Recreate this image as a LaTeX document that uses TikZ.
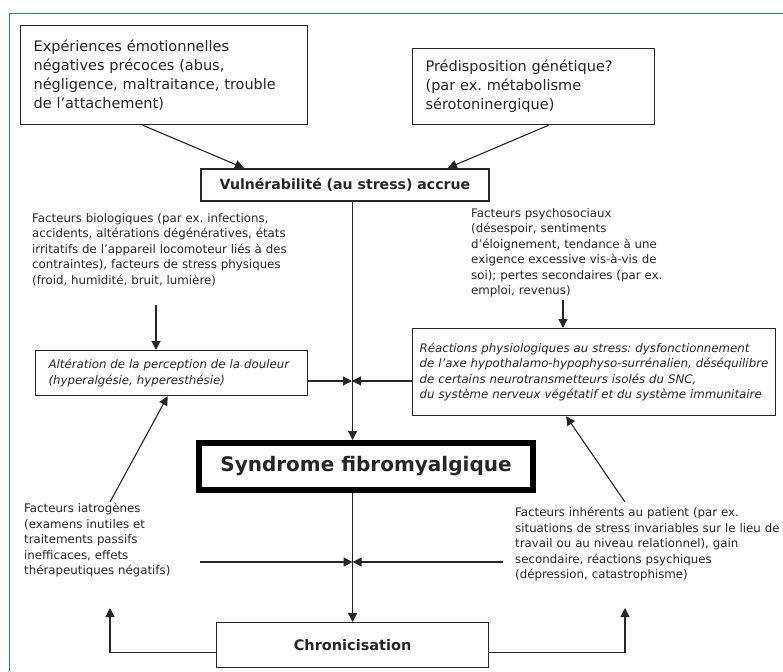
\documentclass[tikz,border=0pt]{standalone}
\usepackage{fontspec}
\setmainfont{DejaVu Sans}
\usepackage{tikz}
\usetikzlibrary{arrows.meta,positioning}
\definecolor{inkgray}{HTML}{262626}
\definecolor{framebl}{HTML}{1F7FC6}
\frenchspacing

\begin{document}
\begin{tikzpicture}[x=1pt, y=-1pt,
  box/.style={draw=inkgray, line width=1.2pt, inner xsep=13pt, inner ysep=0pt, align=left, text=inkgray, font=\fontsize{14.5}{19}\selectfont},
  headbox/.style={draw=inkgray, line width=1.8pt, inner sep=0pt, align=center, text=inkgray, font=\fontsize{14.1}{17}\selectfont\bfseries},
  itbox/.style={draw=inkgray, line width=1.2pt, inner xsep=7pt, inner ysep=0pt, align=left, text=inkgray, font=\fontsize{11.8}{15.5}\selectfont\itshape},
  note/.style={inner sep=0pt, anchor=north west, align=left, text=inkgray, font=\fontsize{11.8}{15.5}\selectfont},
  arrow/.style={-{Triangle[length=9pt,width=9pt]}, line width=1.1pt, draw=inkgray}
]
\useasboundingbox (0,0) rectangle (783,671);
\draw[framebl, line width=1.8pt] (9.5,671) -- (9.5,13.5) -- (783,13.5);

% top boxes
\node[box, anchor=north west, minimum width=287pt, minimum height=99pt, text width=261pt] (exp) at (20,25)
  {Expériences émotionnelles\\négatives précoces (abus,\\négligence, maltraitance, trouble\\de l’attachement)};
\node[box, anchor=north west, minimum width=242pt, minimum height=76pt, text width=216pt] (gen) at (412,48)
  {Prédisposition génétique?\\(par ex. métabolisme\\sérotoninergique)};
\node[headbox, anchor=north west, minimum width=288pt, minimum height=32pt] (vuln) at (200,168)
  {Vulnérabilité (au stress) accrue};

% influencing factors
\node[note, text width=290pt] (bio) at (32,213)
  {Facteurs biologiques (par ex. infections,\\accidents, altérations dégénératives, états\\irritatifs de l’appareil locomoteur liés à des\\contraintes), facteurs de stress physiques\\(froid, humidité, bruit, lumière)};
\node[note, text width=220pt] (psy) at (471,208)
  {Facteurs psychosociaux\\(désespoir, sentiments\\d’éloignement, tendance à une\\exigence excessive vis-à-vis de\\soi); pertes secondaires (par ex.\\emploi, revenus)};

\node[itbox, inner xsep=13pt, anchor=north west, minimum width=272pt, minimum height=45pt, text width=246pt] (alt) at (35,350)
  {Altération de la perception de la douleur\\(hyperalgésie, hyperesthésie)};
\node[itbox, anchor=north west, minimum width=363pt, minimum height=87pt, text width=349pt] (reac) at (412,328)
  {Réactions physiologiques au stress: dysfonctionnement\\de l'axe hypothalamo-hypophyso-surrénalien, déséquilibre\\de certains neurotransmetteurs isolés du SNC,\\du système nerveux végétatif et du système immunitaire};

\node[draw=black, line width=6pt, anchor=north west, minimum width=334pt, minimum height=47pt, inner sep=0pt,
  font=\fontsize{20}{24}\selectfont\bfseries, text=inkgray] (synd) at (196,440) {Syndrome fibromyalgique};

\node[note, text width=200pt] (iat) at (24,503)
  {Facteurs iatrogènes\\(examens inutiles et\\traitements passifs\\inefficaces, effets\\thérapeutiques négatifs)};
\node[note, text width=300pt] (pat) at (515,507)
  {Facteurs inhérents au patient (par ex.\\situations de stress invariables sur le lieu de\\travail ou au niveau relationnel), gain\\secondaire, réactions psychiques\\(dépression, catastrophisme)};

\node[headbox, line width=1.2pt, font=\fontsize{14.5}{17}\selectfont\bfseries, anchor=north west, minimum width=272pt, minimum height=45pt] (chron) at (216,622)
  {Chronicisation};

% junctions and free ends
\coordinate (j1) at (352,381);
\coordinate (hl) at (200,562);
\coordinate (hr) at (503,562);
\coordinate (j2) at (chron.north |- hl);
\coordinate (bioa) at (156,305);
\coordinate (psya) at (563,300);
\coordinate (iata) at (110,502);
\coordinate (pata) at (625,502);
\coordinate (iatb) at (110,608);
\coordinate (patb) at (625,608);

\draw[arrow] ([xshift=-21.5pt]exp.south) -- ([xshift=-101pt]vuln.north);
\draw[arrow] ([xshift=15pt]gen.south) -- ([xshift=103pt]vuln.north);
\draw[arrow] (vuln.south -| chron.north) -- (synd.north -| chron.north);
\draw[arrow] (synd.south -| chron.north) -- (chron.north);

\draw[arrow] (bioa) -- (bioa |- alt.north);
\draw[arrow] (psya) -- (psya |- reac.north);
\draw[arrow] (alt.east |- j1) -- (j1);
\draw[arrow] (reac.west |- j1) -- (j1);
\draw[arrow] (hl) -- (j2);
\draw[arrow] (hr) -- (j2);

\draw[arrow] (iata) -- ([xshift=-4pt]alt.south);
\draw[arrow] (pata) -- ([xshift=-28pt]reac.south);
\draw[arrow] ([yshift=-7pt]chron.west) -| (iatb);
\draw[arrow] ([yshift=-7pt]chron.east) -| (patb);
\end{tikzpicture}
\end{document}
